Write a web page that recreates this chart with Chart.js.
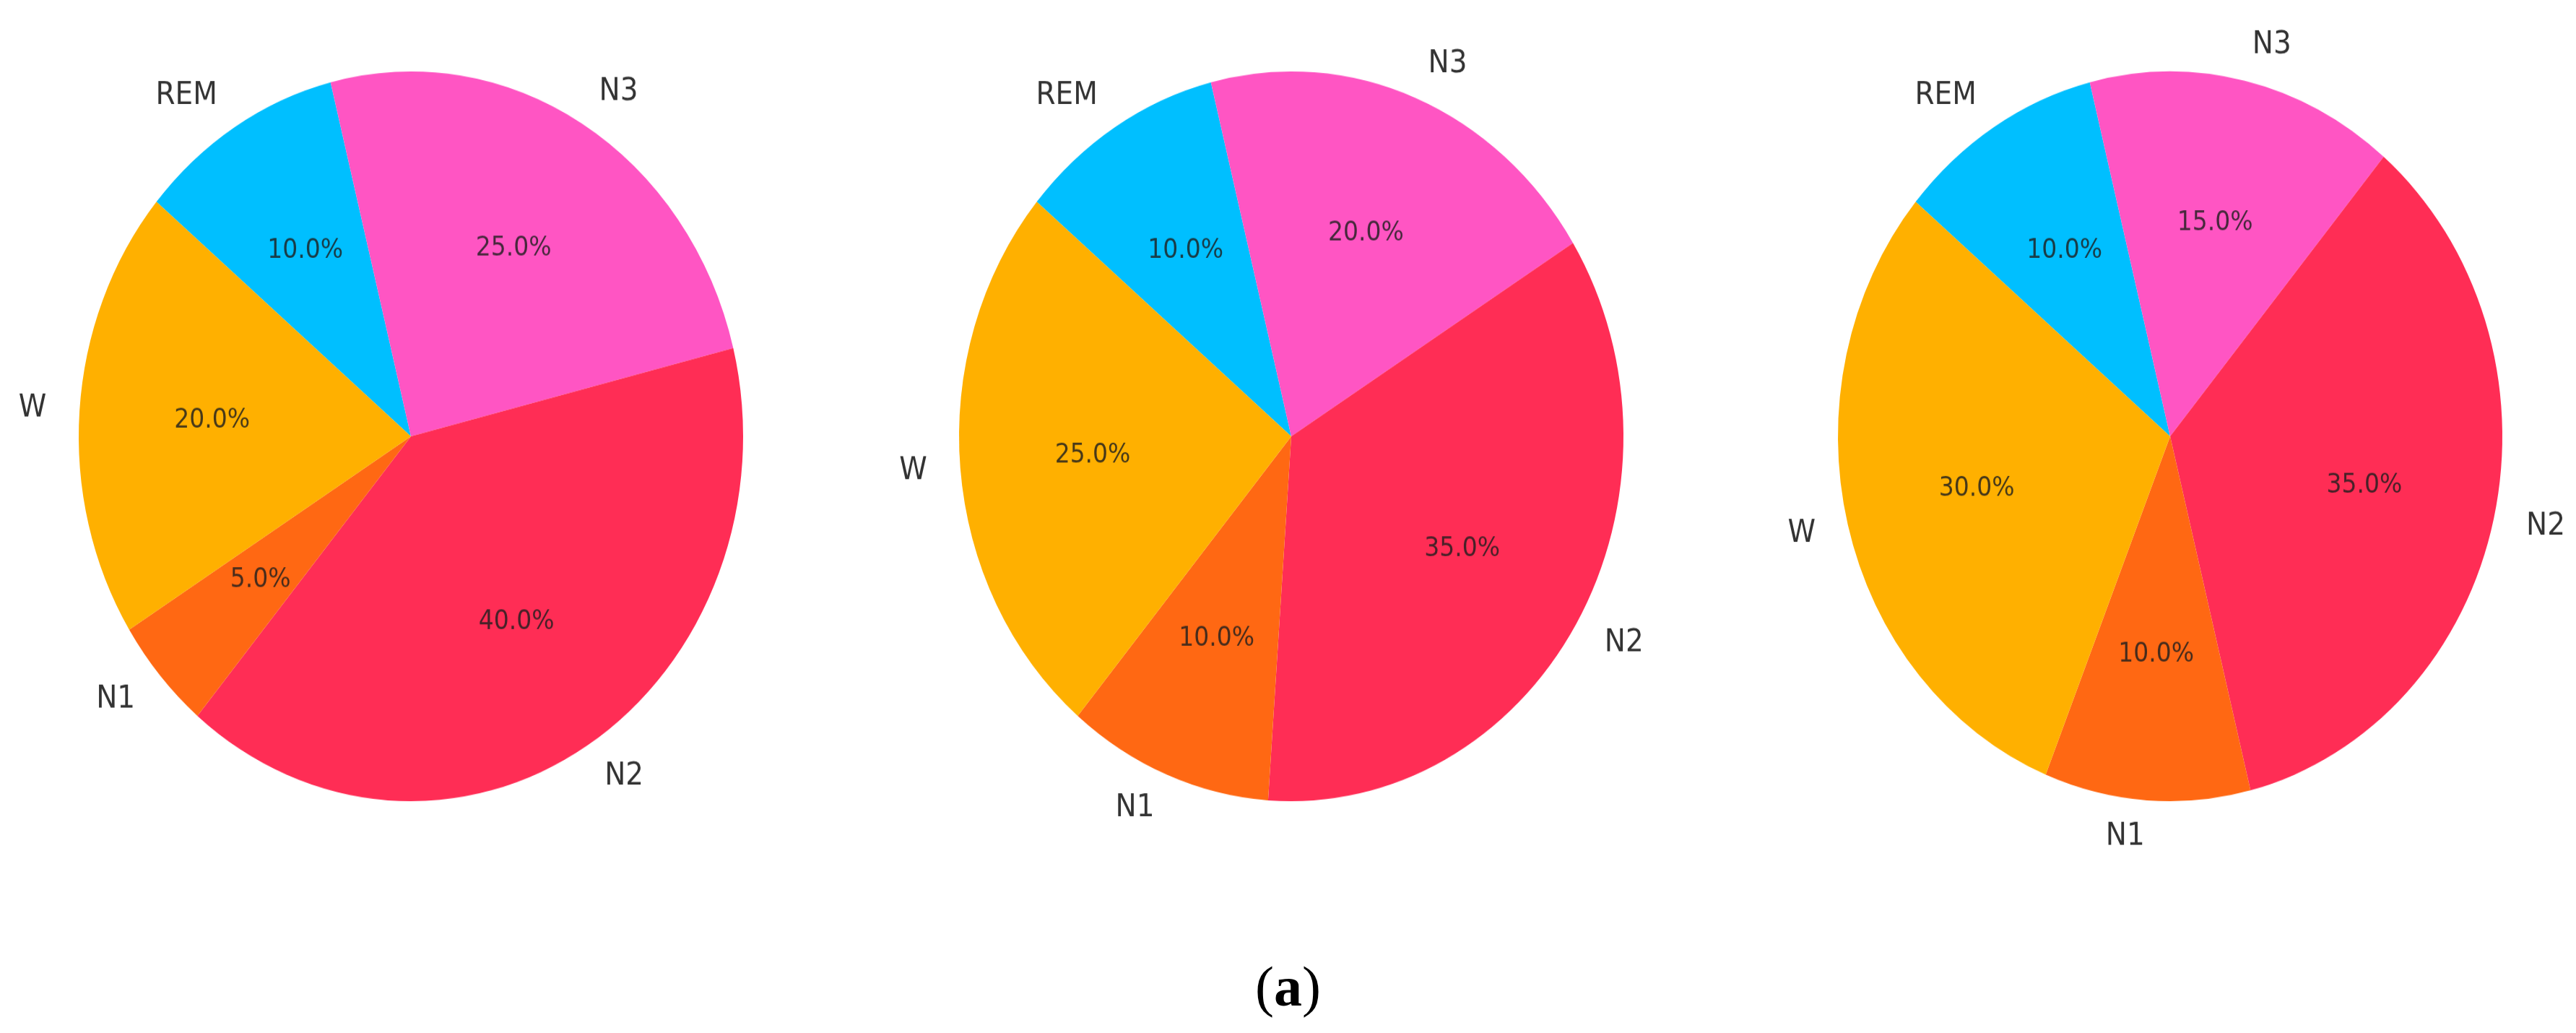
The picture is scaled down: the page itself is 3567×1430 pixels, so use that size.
<!DOCTYPE html>
<html>
<head>
<meta charset="utf-8">
<script src="https://cdn.jsdelivr.net/npm/chart.js@4"></script>
<style>
  html, body { margin: 0; padding: 0; background: #fff; }
  #page { position: relative; width: 3567px; height: 1430px; overflow: hidden; background: #fff; }
  .pie { position: absolute; top: 54px; width: 1100px; height: 1100px;
         transform: scaleY(1.098); transform-origin: 550px 550px; }
  #caption { position: absolute; left: 0; width: 3567px; top: 1321px; text-align: center;
             font-family: "Liberation Serif", "DejaVu Serif", serif; font-size: 78px; color: #000; }
</style>
</head>
<body>
<div id="page">
  <canvas id="pie1" class="pie" width="1100" height="1100" style="left:19px"></canvas>
  <canvas id="pie2" class="pie" width="1100" height="1100" style="left:1238px"></canvas>
  <canvas id="pie3" class="pie" width="1100" height="1100" style="left:2455px"></canvas>
  <div id="caption">(<b>a</b>)</div>
</div>
<script>
const stages = ['REM', 'N3', 'N2', 'N1', 'W'];
const colors = ['#00bfff', '#ff55c3', '#ff2d55', '#ff6813', '#ffb000'];

const pie1Values = [10, 25, 40, 5, 20];
const pie2Values = [10, 20, 35, 10, 25];
const pie3Values = [10, 15, 35, 10, 30];

// matplotlib-style labels: names at 1.1r, percentages at 0.6r
const pieLabels = {
  id: 'pieLabels',
  afterDatasetsDraw(chart) {
    const ctx = chart.ctx;
    const meta = chart.getDatasetMeta(0);
    const values = chart.data.datasets[0].data;
    const total = values.reduce((a, b) => a + b, 0);
    ctx.save();
    meta.data.forEach((arc, i) => {
      const p = arc.getProps(['x', 'y', 'startAngle', 'endAngle', 'outerRadius'], true);
      const mid = (p.startAngle + p.endAngle) / 2;
      const c = Math.cos(mid), s = Math.sin(mid);

      const lx = p.x + c * p.outerRadius * 1.1;
      const ly = p.y + s * p.outerRadius * 1.1;
      ctx.font = '39px "DejaVu Sans"';
      ctx.fillStyle = '#333';
      ctx.textBaseline = 'middle';
      ctx.textAlign = c > 0 ? 'left' : 'right';
      ctx.fillText(chart.data.labels[i], lx, ly);

      const px = p.x + c * p.outerRadius * 0.6;
      const py = p.y + s * p.outerRadius * 0.6;
      ctx.font = '33px "DejaVu Sans"';
      ctx.fillStyle = 'rgba(30,30,30,0.82)';
      ctx.textAlign = 'center';
      ctx.fillText((values[i] / total * 100).toFixed(1) + '%', px, py);
    });
    ctx.restore();
  }
};

function makePie(id, values) {
  new Chart(document.getElementById(id), {
    type: 'pie',
    data: {
      labels: stages,
      datasets: [{
        data: values,
        backgroundColor: colors,
        borderWidth: 0,
      }]
    },
    options: {
      responsive: false,
      animation: false,
      rotation: -50,
      layout: { padding: 90 },
      plugins: {
        legend: { display: false },
        tooltip: { enabled: false }
      }
    },
    plugins: [pieLabels]
  });
}

makePie('pie1', pie1Values);
makePie('pie2', pie2Values);
makePie('pie3', pie3Values);
</script>
</body>
</html>
